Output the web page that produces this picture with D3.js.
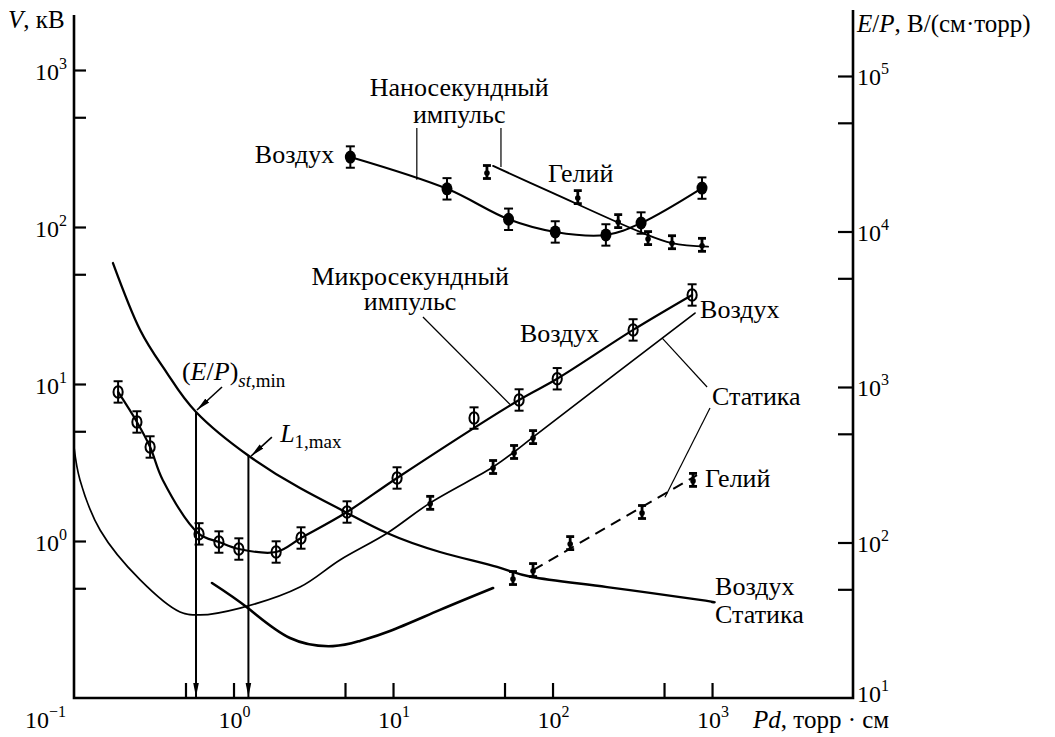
<!DOCTYPE html>
<html>
<head>
<meta charset="utf-8">
<script src="https://cdn.jsdelivr.net/npm/d3@7"></script>
</head>
<body style="margin:0">
<script>
// axis extents
var xMin = 0.1, xMax = 7650;
var yMin = 0.1, yMax = 1000, yTop = 2240;
var epMin = 10, epMax = 1e5, epTop = 2.66e5;

// ticks
var xMajor = [0.1, 1, 10, 100, 1000];
var xMinor = [0.5, 5, 50, 500];
var yMajor = [0.1, 1, 10, 100, 1000];
var yMinor = [0.5, 5, 50, 500];
var epMajor = [10, 100, 1000, 10000, 100000];
var epMinor = [50, 500, 5000, 50000];

// nanosecond pulse, air (filled circles)
var nanoAirPd = [5.4, 21.8, 53, 104, 216, 359, 865];
var nanoAirV  = [279, 175, 112, 93, 89, 106, 177];

// nanosecond pulse, helium
var nanoHePd = [38.8, 144, 258, 397, 561, 865];
var nanoHeV  = [224, 155, 109, 85, 80, 77];
var nanoHeFitPd = [42.4, 100, 354, 561, 944];
var nanoHeFitV  = [245, 165, 93, 79, 75];

// microsecond pulse, air (open circles)
var microAirPd = [0.189, 0.248, 0.30, 0.608, 0.81, 1.08, 1.85, 2.65, 5.15, 10.6, 32.2, 61.7, 107, 320, 750];
var microAirV  = [8.9, 5.73, 3.97, 1.11, 0.985, 0.889, 0.851, 1.045, 1.53, 2.52, 6.07, 7.91, 10.8, 22.1, 36.9];
var microAirFitPd = [0.189, 0.248, 0.30, 0.36, 0.608, 0.81, 1.08, 1.85, 2.65, 5.15, 10.6, 61.7, 107, 320, 750];
var microAirFitV  = [8.9, 5.73, 3.97, 2.45, 1.11, 0.985, 0.889, 0.851, 1.045, 1.53, 2.52, 7.91, 10.8, 22.1, 36.9];

// static breakdown, air (Paschen curve) and points on it
var staticAirPd = [0.1, 0.109, 0.146, 0.26, 0.462, 0.617, 1.10, 2.61, 4.65, 9.17, 17.1, 42.4, 57.4, 75.5, 782];
var staticAirV  = [3.97, 2.45, 1.17, 0.565, 0.353, 0.338, 0.374, 0.509, 0.757, 1.12, 1.75, 2.96, 3.69, 4.59, 28.3];
var staticAirPtPd = [17.1, 42.4, 57.4, 75.5];
var staticAirPtV  = [1.75, 2.96, 3.69, 4.59];

// static breakdown, helium
var staticHePd = [0.733, 1.23, 2.26, 4.2, 6.21, 9.57, 19.7, 42.4];
var staticHeV  = [0.540, 0.374, 0.241, 0.214, 0.231, 0.267, 0.364, 0.502];

// helium points + dashed fit
var heDashPd = [56.5, 75.5, 129, 364, 760];
var heDashV  = [0.581, 0.653, 0.97, 1.53, 2.45];
var heDashFitPd = [75.5, 805];
var heDashFitV  = [0.653, 2.63];

// E/P static, air (right axis)
var epPd  = [0.1755, 0.2597, 0.383, 0.582, 1.25, 2.61, 5.15, 9.17, 19.7, 44.9, 74.3, 220, 841, 1000];
var epVal = [6270, 2328, 1230, 691, 360, 224, 155, 115, 86.9, 69.6, 60, 51.7, 42.7, 41.4];

// marked points on the E/P curve
var refPd = [0.582, 1.24];
var refEP = [691, 362];

// text labels (data coords)
var labelText = ['Воздух', 'Наносекундный', 'импульс', 'Гелий', 'Микросекундный', 'импульс',
                 'Воздух', 'Воздух', 'Статика', 'Гелий', 'Воздух', 'Статика'];
var labelPd = [1.36, 26, 26, 93.7, 12.8, 12.8, 62.5, 841, 1000, 904, 1045, 1045];
var labelV  = [256, 685, 460, 194, 43, 29.4, 18.5, 26.3, 7.35, 2.21, 0.453, 0.30];
var labelAnchor = ['start', 'middle', 'middle', 'start', 'middle', 'middle',
                   'start', 'start', 'start', 'start', 'start', 'start'];

// leader lines (data coords: [pd1, v1, pd2, v2])
var leaders = [
  [14.1, 427, 14.1, 200],
  [47.5, 427, 47.5, 241],
  [15.4, 26.7, 54.2, 7.4],
  [487, 19.6, 931, 9.57],
  [971, 7.03, 507, 1.9]
];
// pointer arrows
var pointers = [
  [0.847, 9.57, 0.59, 6.83],
  [1.74, 4.59, 1.29, 3.48]
];

(function(){
  "use strict";
  var W = 1055, H = 737;
  var svg = d3.select('body').append('svg').attr('width', W).attr('height', H);

  var x = d3.scaleLog().domain([xMin, xMax]).range([74, 853]);
  var y = d3.scaleLog().domain([yMin, yMax]).range([698, 70]);
  var yR = d3.scaleLog().domain([epMin, epMax]).range([698, 76]);

  //every text gets its font inline
  function addText(px, py, size){
    return svg.append('text').attr('x', px).attr('y', py)
      .style('font-family', "'Liberation Serif'")
      .style('font-size', size + 'px');
  }

  var defs = svg.append('defs');
  defs.append('marker')
    .attr('id', 'arr')
    .attr('viewBox', '0 0 10 10')
    .attr('refX', 10).attr('refY', 5)
    .attr('markerWidth', 14).attr('markerHeight', 14)
    .attr('markerUnits', 'userSpaceOnUse')
    .attr('orient', 'auto')
    .append('path').attr('d', 'M0,3 L10,5 L0,7 z').attr('fill', '#000');

  function zip(a, b){ return a.map(function(v, i){ return [v, b[i]]; }); }
  function expStr(v){
    var e = Math.round(Math.log10(v));
    return e < 0 ? '\u2212' + (-e) : String(e);
  }

  //axes
  var ax = svg.append('g');
  ax.append('g').attr('transform', 'translate(0,698)')
    .call(d3.axisBottom(x).tickValues(xMajor.slice(1).concat(xMinor)).tickSize(-15).tickFormat(''))
    .call(function(g){ g.select('.domain').remove(); });
  ax.append('g').attr('transform', 'translate(74,0)')
    .call(d3.axisLeft(y).tickValues(yMajor.slice(1).concat(yMinor)).tickSize(-12).tickFormat(''))
    .call(function(g){ g.select('.domain').remove(); });
  ax.append('g').attr('transform', 'translate(853,0)')
    .call(d3.axisRight(yR).tickValues(epMajor.slice(1).concat(epMinor)).tickSize(-15).tickFormat(''))
    .call(function(g){ g.select('.domain').remove(); });
  ax.selectAll('.tick line').attr('stroke', '#000').attr('stroke-width', 2.2);
  ax.selectAll('.tick text').remove();

  var frame = 'M' + x(xMin) + ',' + y(yTop) + 'V' + y(yMin) + 'H' + x(xMax) + 'V' + yR(epTop);
  ax.append('path').attr('d', frame).attr('fill', 'none').attr('stroke', '#000').attr('stroke-width', 2.6);

  function powLabel(px, py, v, anchor){
    var t = addText(px, py, 24).attr('text-anchor', anchor || 'start');
    t.append('tspan').text('10');
    t.append('tspan').attr('dy', -11).style('font-size', '16px').text(expStr(v));
    return t;
  }
  yMajor.slice(1).forEach(function(v){ powLabel(67, y(v) + 10, v, 'end'); });
  xMajor.forEach(function(v){
    if(v === xMin){ powLabel(25, 728, v); }
    else { powLabel(x(v) - 15, 728, v); }
  });
  epMajor.forEach(function(v){ powLabel(857, yR(v) + (v === epMin ? 4 : 9), v); });

  //axis titles
  var t1 = addText(8, 28, 25);
  t1.append('tspan').style('font-style', 'italic').text('V');
  t1.append('tspan').text(', кВ');
  var t2 = addText(857, 32, 25);
  t2.append('tspan').style('font-style', 'italic').text('E');
  t2.append('tspan').text('/');
  t2.append('tspan').style('font-style', 'italic').text('P');
  t2.append('tspan').text(', В/(см·торр)');
  var t3 = addText(753, 728, 25);
  t3.append('tspan').style('font-style', 'italic').text('Pd');
  t3.append('tspan').text(', торр \u00b7 см');

  //curves
  function mkLine(sc, curve){
    return d3.line().x(function(d){ return x(d[0]); }).y(function(d){ return sc(d[1]); }).curve(curve);
  }
  var cr = d3.curveCatmullRom.alpha(0.5);
  var curves = svg.append('g').attr('fill', 'none').attr('stroke', '#000')
    .attr('stroke-linejoin', 'round').attr('stroke-linecap', 'round');

  curves.append('path').attr('d', mkLine(yR, d3.curveNatural)(zip(epPd, epVal))).attr('stroke-width', 2.3);
  curves.append('path').attr('d', mkLine(y, cr)(zip(staticAirPd, staticAirV))).attr('stroke-width', 1.7);
  curves.append('path').attr('d', mkLine(y, d3.curveNatural)(zip(staticHePd, staticHeV))).attr('stroke-width', 2.6);
  curves.append('path').attr('d', mkLine(y, cr)(zip(microAirFitPd, microAirFitV))).attr('stroke-width', 2.2);
  curves.append('path').attr('d', mkLine(y, cr)(zip(nanoAirPd, nanoAirV))).attr('stroke-width', 2.1);
  curves.append('path').attr('d', mkLine(y, cr)(zip(nanoHeFitPd, nanoHeFitV))).attr('stroke-width', 1.9);
  curves.append('path').attr('d', mkLine(y, d3.curveLinear)(zip(heDashFitPd, heDashFitV))).attr('stroke-width', 2)
    .attr('stroke-dasharray', '11,7').attr('stroke-linecap', 'butt');

  //vertical arrows from the E/P curve down to the axis
  refPd.forEach(function(v, i){
    svg.append('line')
      .attr('x1', x(v)).attr('x2', x(v))
      .attr('y1', yR(refEP[i])).attr('y2', y(yMin) - 1)
      .attr('stroke', '#000').attr('stroke-width', 2)
      .attr('marker-end', 'url(#arr)');
  });

  //leaders and pointers
  leaders.forEach(function(d){
    svg.append('line')
      .attr('x1', x(d[0])).attr('y1', y(d[1])).attr('x2', x(d[2])).attr('y2', y(d[3]))
      .attr('stroke', '#000').attr('stroke-width', 1.2);
  });
  pointers.forEach(function(d){
    svg.append('line')
      .attr('x1', x(d[0])).attr('y1', y(d[1])).attr('x2', x(d[2])).attr('y2', y(d[3]))
      .attr('stroke', '#000').attr('stroke-width', 1.6)
      .attr('marker-end', 'url(#arr)');
  });

  //markers
  var mk = svg.append('g').attr('stroke', '#000');
  function errBar(px, pyTop, pyBot, cap, sw){
    mk.append('line').attr('x1', px).attr('x2', px).attr('y1', pyTop).attr('y2', pyBot).attr('stroke-width', sw);
    mk.append('line').attr('x1', px - cap / 2).attr('x2', px + cap / 2).attr('y1', pyTop).attr('y2', pyTop).attr('stroke-width', sw);
    mk.append('line').attr('x1', px - cap / 2).attr('x2', px + cap / 2).attr('y1', pyBot).attr('y2', pyBot).attr('stroke-width', sw);
  }
  // open circles with error bars
  zip(microAirPd, microAirV).forEach(function(d){
    var px = x(d[0]), py = y(d[1]);
    errBar(px, y(d[1] * 1.17), y(d[1] / 1.17), 9, 2);
    mk.append('ellipse').attr('cx', px).attr('cy', py).attr('rx', 4.6).attr('ry', 5.8)
      .attr('fill', 'none').attr('stroke-width', 2);
  });
  // filled circles
  zip(nanoAirPd, nanoAirV).forEach(function(d){
    var px = x(d[0]), py = y(d[1]);
    errBar(px, y(d[1] * 1.17), y(d[1] / 1.17), 9, 2);
    mk.append('ellipse').attr('cx', px).attr('cy', py).attr('rx', 5.5).attr('ry', 6.5)
      .attr('fill', '#000').attr('stroke', 'none');
  });
  // small I-markers
  var iPts = zip(nanoHePd, nanoHeV).concat(zip(staticAirPtPd, staticAirPtV), zip(heDashPd, heDashV));
  iPts.forEach(function(d){
    var px = x(d[0]), py = y(d[1]);
    errBar(px, y(d[1] * 1.1), y(d[1] / 1.1), 8, 2.8);
    mk.append('circle').attr('cx', px).attr('cy', py + 1).attr('r', 2.8).attr('fill', '#000').attr('stroke', 'none');
  });

  //labels
  labelText.forEach(function(s, i){
    addText(x(labelPd[i]), y(labelV[i]), 26)
      .attr('text-anchor', labelAnchor[i])
      .text(s);
  });

  var e1 = addText(x(0.475), y(10.6), 26);
  e1.append('tspan').text('(');
  e1.append('tspan').style('font-style', 'italic').text('E');
  e1.append('tspan').text('/');
  e1.append('tspan').style('font-style', 'italic').text('P');
  e1.append('tspan').text(')');
  e1.append('tspan').attr('dy', 7).style('font-size', '19px').style('font-style', 'italic').text('st');
  e1.append('tspan').style('font-size', '19px').text(',min');

  var e2 = addText(x(1.96), y(4.27), 26);
  e2.append('tspan').style('font-style', 'italic').text('L');
  e2.append('tspan').attr('dy', 6).style('font-size', '19px').text('1,max');
})();
</script>
</body>
</html>
